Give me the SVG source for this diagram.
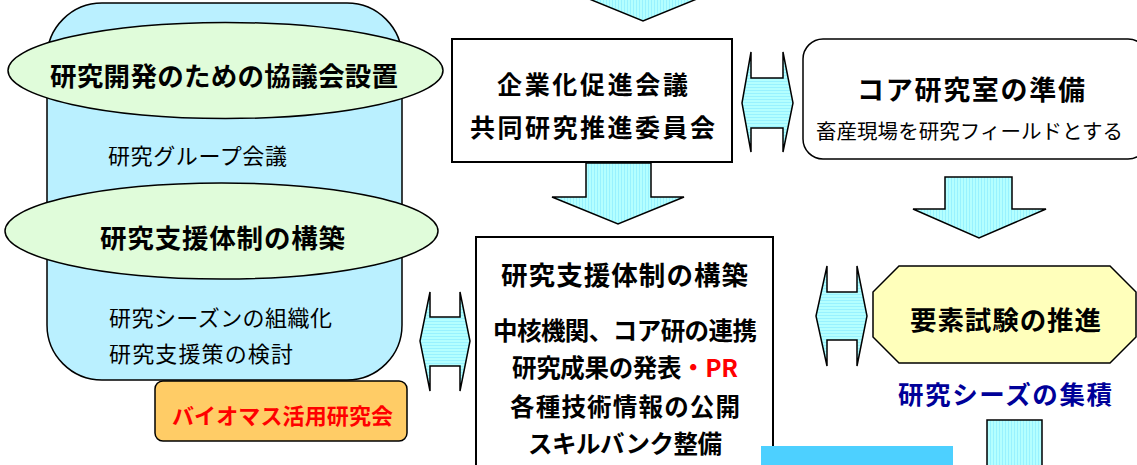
<svg xmlns="http://www.w3.org/2000/svg" width="1137" height="465" viewBox="0 0 1137 465">
<defs>
<pattern id="vstripe" width="3" height="3" patternUnits="userSpaceOnUse"><rect width="3" height="3" fill="#B4FFFF"/><rect width="1" height="3" fill="#98F2FF"/></pattern>
<pattern id="hstripe" width="3" height="3" patternUnits="userSpaceOnUse"><rect width="3" height="3" fill="#B4FFFF"/><rect width="3" height="1" fill="#98F2FF"/></pattern>
<style>
.t{font-family:"Noto Sans CJK JP","Noto Sans",sans-serif;dominant-baseline:central;}
.b{font-weight:bold;}
.ln{stroke:#000;stroke-width:1.5;}
.va{fill:url(#vstripe);stroke:#000;stroke-width:1.5;stroke-linejoin:miter;}
.ha{fill:url(#hstripe);stroke:#000;stroke-width:1.5;stroke-linejoin:miter;}
</style>
</defs>
<rect width="1137" height="465" fill="#fff"/>

<g id="left-panel">
<rect x="47" y="3" width="355" height="377" rx="55" ry="55" fill="#BAF0FF" class="ln"/>
<text class="t" x="108" y="154" font-size="22" textLength="179" lengthAdjust="spacing">研究グループ会議</text>
<text class="t" x="109" y="316" font-size="22" textLength="223" lengthAdjust="spacing">研究シーズンの組織化</text>
<text class="t" x="109" y="352" font-size="22" textLength="184" lengthAdjust="spacing">研究支援策の検討</text>
</g>

<g id="ellipse-council">
<ellipse cx="225.5" cy="70.5" rx="217.5" ry="48" fill="#E0FCDA" class="ln"/>
<text class="t b" x="50" y="74" font-size="26.5" textLength="348" lengthAdjust="spacing">研究開発のための協議会設置</text>
</g>

<g id="ellipse-support">
<ellipse cx="221.5" cy="231" rx="216.5" ry="48" fill="#E0FCDA" class="ln"/>
<text class="t b" x="100" y="236" font-size="26.5" textLength="245" lengthAdjust="spacing">研究支援体制の構築</text>
</g>

<g id="biomass">
<rect x="155" y="381" width="252" height="60" rx="8" ry="8" fill="#FFCC66" class="ln"/>
<text class="t b" x="172" y="414" font-size="22" fill="#FF0000" textLength="221" lengthAdjust="spacing">バイオマス活用研究会</text>
</g>

<g id="kigyouka">
<rect x="452" y="39" width="280" height="123" fill="#fff" stroke="#000" stroke-width="2"/>
<text class="t b" x="497" y="83" font-size="25" textLength="191" lengthAdjust="spacing">企業化促進会議</text>
<text class="t b" x="470" y="126" font-size="25" textLength="245" lengthAdjust="spacing">共同研究推進委員会</text>
</g>

<g id="core-lab">
<rect x="803" y="39" width="345" height="120" rx="20" ry="20" fill="#fff" class="ln"/>
<text class="t b" x="857" y="88" font-size="27" textLength="228" lengthAdjust="spacing">コア研究室の準備</text>
<text class="t" x="816" y="130" font-size="20.5" textLength="307" lengthAdjust="spacing">畜産現場を研究フィールドとする</text>
</g>

<g id="main-support">
<rect x="476" y="237" width="297" height="260" fill="#fff" stroke="#000" stroke-width="2"/>
<text class="t b" x="501" y="273" font-size="26.5" textLength="247" lengthAdjust="spacing">研究支援体制の構築</text>
<text class="t b" x="493" y="329" font-size="24.5" textLength="264" lengthAdjust="spacing">中核機関、コア研の連携</text>
<text class="t b" x="512" y="366" font-size="24.5" textLength="226" lengthAdjust="spacing">研究成果の発表<tspan fill="#FF0000">・PR</tspan></text>
<text class="t b" x="510" y="405" font-size="24.5" textLength="230" lengthAdjust="spacing">各種技術情報の公開</text>
<text class="t b" x="528" y="442" font-size="24.5" textLength="194" lengthAdjust="spacing">スキルバンク整備</text>
</g>

<g id="element-test">
<polygon points="899,266 1110,266 1136,292 1136,337 1110,363 899,363 873,337 873,292" fill="#FFFFBB" class="ln"/>
<text class="t b" x="910" y="318" font-size="26.5" textLength="191" lengthAdjust="spacing">要素試験の推進</text>
</g>

<g id="seeds-label">
<text class="t b" x="898" y="392" font-size="25.5" fill="#000099" textLength="214" lengthAdjust="spacing">研究シーズの集積</text>
</g>

<g id="cyan-box">
<rect x="761" y="446" width="192" height="30" fill="#4DD0FF"/>
</g>

<g id="connectors">
<polygon class="va" points="610,-30 676,-30 676,-6 709,-6 643,21 577,-6 610,-6"/>
<polygon class="va" points="586,163 651,163 651,197 684,197 618,224 552,197 586,197"/>
<polygon class="va" points="945,177 1012,177 1012,209 1046,209 979,238 913,209 945,209"/>
<rect class="va" x="987" y="420" width="55" height="60"/>
<polygon class="ha" points="742,103 751,52 751,78 783,78 783,52 793,103 783,152 783,128 751,128 751,152"/>
<polygon class="ha" points="420,341 430,292 430,317 460,317 460,292 470,341 460,391 460,366 430,366 430,391"/>
<polygon class="ha" points="816,316 827,266 827,292 857,292 857,266 867,316 857,366 857,340 827,340 827,366"/>
</g>
</svg>
